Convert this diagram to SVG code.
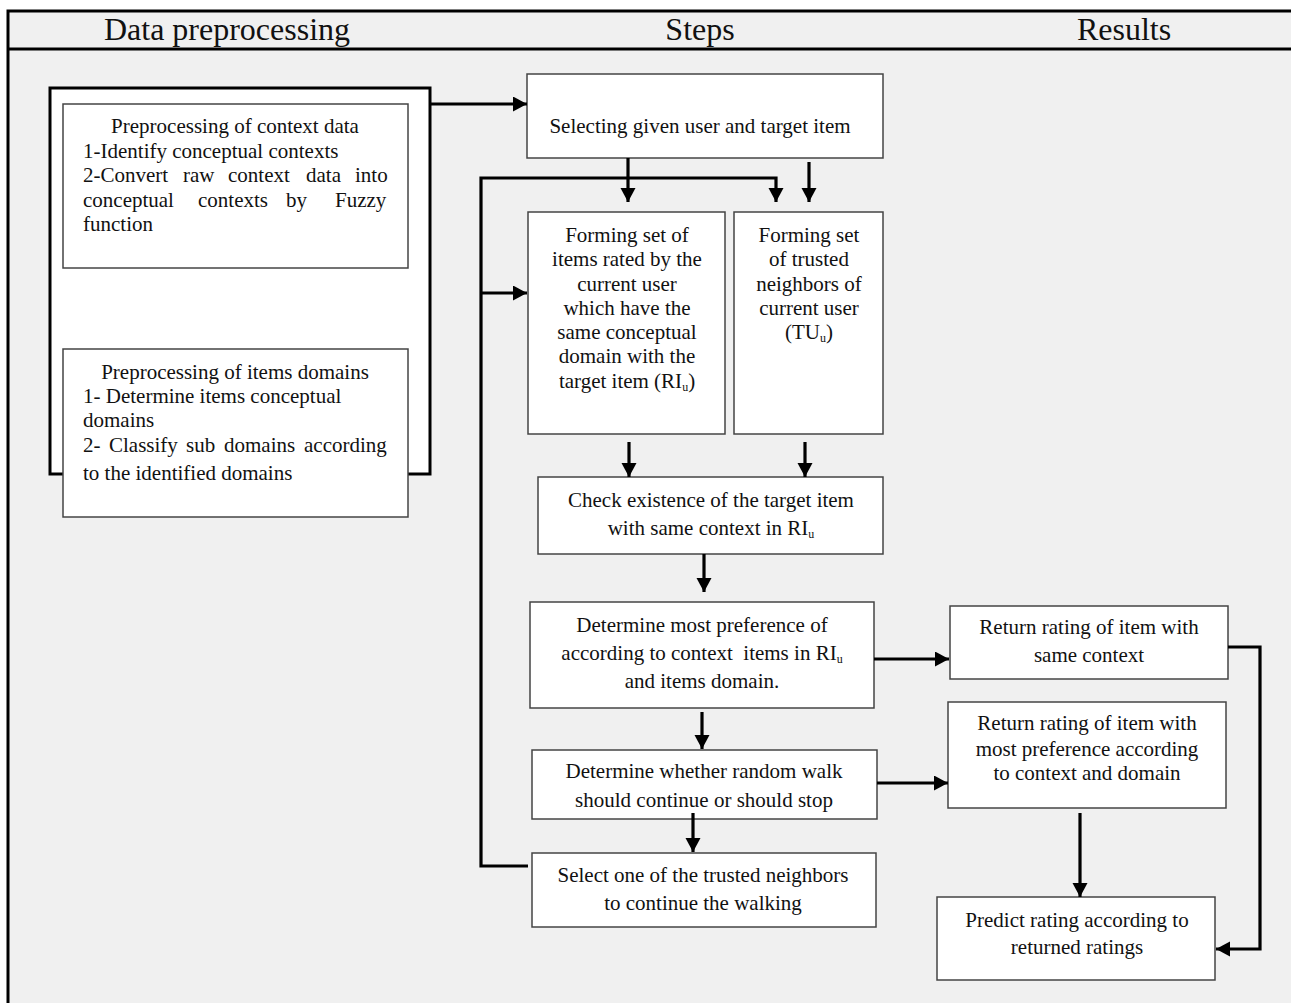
<svg xmlns="http://www.w3.org/2000/svg" width="1291" height="1003" viewBox="0 0 1291 1003">
<style>
text{font-family:"Liberation Serif","Times New Roman",serif;fill:#111;}
.h{font-size:32px;text-anchor:middle;}
.t{font-size:21px;}
.c{text-anchor:middle;}
.box{fill:#fff;stroke:#444;stroke-width:1.5;}
.thick{fill:#fff;stroke:#000;stroke-width:3;}
.frame{stroke:#000;stroke-width:3;fill:none;}
.con{fill:none;stroke:#000;stroke-width:3.2;}
.sub{font-size:12px;}
</style>
<defs>
<marker id="ah" markerUnits="userSpaceOnUse" markerWidth="16" markerHeight="16" refX="14" refY="7.5" orient="auto">
<path d="M0,0 L14,7.5 L0,15 z" fill="#000"/>
</marker>
</defs>
<rect x="0" y="0" width="1291" height="1003" fill="#fff"/>
<rect x="8" y="11" width="1283" height="992" fill="#f0f0f0"/>
<g id="frame">
<path class="frame" d="M8,1003 V11 H1291 M8,49 H1291"/>
<text class="h" x="227" y="40">Data preprocessing</text>
<text class="h" x="700" y="40">Steps</text>
<text class="h" x="1124" y="40">Results</text>
</g>
<g id="preprocessing">
<rect class="thick" x="50" y="88" width="380" height="386"/>
</g>
<g id="context-data">
<rect class="box" x="63" y="104" width="345" height="164"/>
<text class="t c" x="235" y="133">Preprocessing of context data</text>
<text class="t" x="83" y="158">1-Identify conceptual contexts</text>
<text class="t" y="182"><tspan x="83">2-Convert</tspan><tspan x="183">raw</tspan><tspan x="228">context</tspan><tspan x="306">data</tspan><tspan x="355">into</tspan></text>
<text class="t" y="207"><tspan x="83">conceptual</tspan><tspan x="198">contexts</tspan><tspan x="286">by</tspan><tspan x="335">Fuzzy</tspan></text>
<text class="t" x="83" y="231">function</text>
</g>
<g id="items-domains">
<rect class="box" x="63" y="349" width="345" height="168"/>
<text class="t c" x="235" y="379">Preprocessing of items domains</text>
<text class="t" x="83" y="403">1- Determine items conceptual</text>
<text class="t" x="83" y="427">domains</text>
<text class="t" y="452"><tspan x="83">2-</tspan><tspan x="109">Classify</tspan><tspan x="186">sub</tspan><tspan x="224">domains</tspan><tspan x="304">according</tspan></text>
<text class="t" x="83" y="480">to the identified domains</text>
</g>
<g id="selecting">
<rect class="box" x="527" y="74" width="356" height="84"/>
<text class="t c" x="700" y="133">Selecting given user and target item</text>
</g>
<g id="ri">
<rect class="box" x="528" y="212" width="197" height="222"/>
<text class="t c" x="627" y="242">Forming set of</text>
<text class="t c" x="627" y="266">items rated by the</text>
<text class="t c" x="627" y="291">current user</text>
<text class="t c" x="627" y="315">which have the</text>
<text class="t c" x="627" y="339">same conceptual</text>
<text class="t c" x="627" y="363">domain with the</text>
<text class="t c" x="627" y="388">target item (RI<tspan class="sub" dy="3">u</tspan><tspan dy="-3">)</tspan></text>
</g>
<g id="tu">
<rect class="box" x="734" y="212" width="149" height="222"/>
<text class="t c" x="809" y="242">Forming set</text>
<text class="t c" x="809" y="266">of trusted</text>
<text class="t c" x="809" y="291">neighbors of</text>
<text class="t c" x="809" y="315">current user</text>
<text class="t c" x="809" y="339">(TU<tspan class="sub" dy="3">u</tspan><tspan dy="-3">)</tspan></text>
</g>
<g id="check">
<rect class="box" x="538" y="477" width="345" height="77"/>
<text class="t c" x="711" y="507">Check existence of the target item</text>
<text class="t c" x="711" y="535">with same context in RI<tspan class="sub" dy="3">u</tspan></text>
</g>
<g id="determine-preference">
<rect class="box" x="530" y="602" width="344" height="106"/>
<text class="t c" x="702" y="632">Determine most preference of</text>
<text class="t c" x="702" y="660" xml:space="preserve">according to context  items in RI<tspan class="sub" dy="3">u</tspan></text>
<text class="t c" x="702" y="688">and items domain.</text>
</g>
<g id="determine-walk">
<rect class="box" x="532" y="750" width="345" height="69"/>
<text class="t c" x="704" y="778">Determine whether random walk</text>
<text class="t c" x="704" y="807">should continue or should stop</text>
</g>
<g id="select-neighbor">
<rect class="box" x="532" y="853" width="344" height="74"/>
<text class="t c" x="703" y="882">Select one of the trusted neighbors</text>
<text class="t c" x="703" y="910">to continue the walking</text>
</g>
<g id="return-same">
<rect class="box" x="950" y="606" width="278" height="73"/>
<text class="t c" x="1089" y="634">Return rating of item with</text>
<text class="t c" x="1089" y="662">same context</text>
</g>
<g id="return-preference">
<rect class="box" x="948" y="702" width="278" height="106"/>
<text class="t c" x="1087" y="730">Return rating of item with</text>
<text class="t c" x="1087" y="756">most preference according</text>
<text class="t c" x="1087" y="780">to context and domain</text>
</g>
<g id="predict">
<rect class="box" x="937" y="897" width="278" height="83"/>
<text class="t c" x="1077" y="927">Predict rating according to</text>
<text class="t c" x="1077" y="954">returned ratings</text>
</g>
<g id="connectors">
<path class="con" d="M430,104 H527" marker-end="url(#ah)"/>
<path class="con" d="M628,158 V202" marker-end="url(#ah)"/>
<path class="con" d="M809,162 V202" marker-end="url(#ah)"/>
<path class="con" d="M528,866 H481 V178 H776 V202" marker-end="url(#ah)"/>
<path class="con" d="M481,293 H527" marker-end="url(#ah)"/>
<path class="con" d="M629,442 V477" marker-end="url(#ah)"/>
<path class="con" d="M805,442 V477" marker-end="url(#ah)"/>
<path class="con" d="M704,554 V592" marker-end="url(#ah)"/>
<path class="con" d="M874,659 H949" marker-end="url(#ah)"/>
<path class="con" d="M702,712 V749" marker-end="url(#ah)"/>
<path class="con" d="M877,783 H948" marker-end="url(#ah)"/>
<path class="con" d="M693,813 V852" marker-end="url(#ah)"/>
<path class="con" d="M1080,813 V897" marker-end="url(#ah)"/>
<path class="con" d="M1228,647 H1260 V949 H1216" marker-end="url(#ah)"/>
</g>
</svg>
